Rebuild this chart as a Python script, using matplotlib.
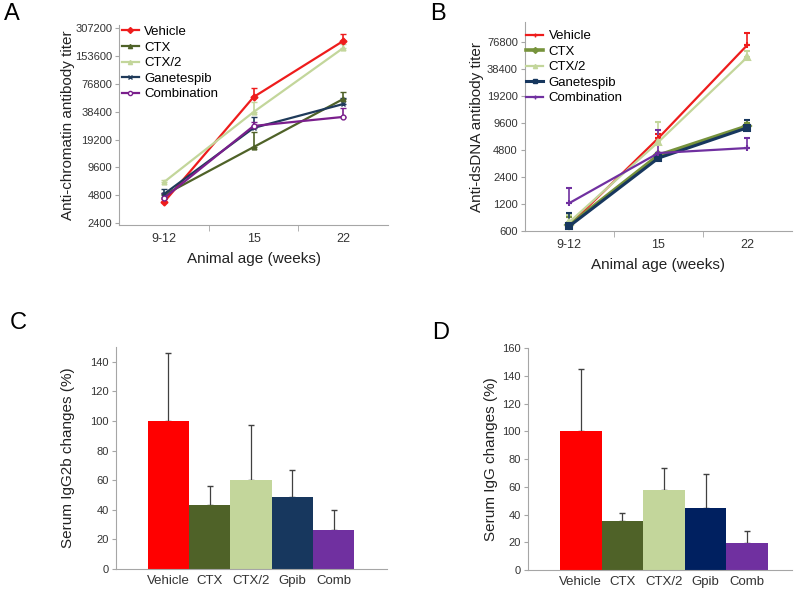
import numpy as np
import matplotlib.pyplot as plt
from matplotlib.lines import Line2D
from matplotlib.ticker import FixedLocator, NullFormatter

plt.rcParams['font.family'] = ['Liberation Sans', 'DejaVu Sans']

# データ
ages = ['9-12', '15', '22']
groups = ['Vehicle', 'CTX', 'CTX/2', 'Ganetespib', 'Combination']

# A: anti-chromatin titer
chrom_vehicle = [4050, 55500, 224000]
chrom_ctx = [4830, 15950, 52800]
chrom_ctx2 = [6670, 38200, 188000]
chrom_gpib = [4950, 25700, 46600]
chrom_comb = [4480, 27000, 33800]
chrom_err_vehicle = [300, 14100, 43000]
chrom_err_ctx = [300, 7250, 10100]
chrom_err_ctx2 = [400, 10800, 20000]
chrom_err_gpib = [650, 8000, 8000]
chrom_err_comb = [600, 3000, 8500]

# B: anti-dsDNA titer
dna_vehicle = [700, 6520, 71200]
dna_ctx = [700, 4200, 8900]
dna_ctx2 = [756, 5900, 52200]
dna_gpib = [680, 3900, 8500]
dna_comb = [1230, 4440, 5050]
dna_err_vehicle = [160, 700, 25400]
dna_err_ctx = [150, 300, 800]
dna_err_ctx2 = [150, 3950, 8000]
dna_err_gpib = [270, 200, 1800]
dna_err_comb = [580, 3560, 1470]

# C, D: bars
bar_labels = ['Vehicle', 'CTX', 'CTX/2', 'Gpib', 'Comb']
igg2b = [100, 43.5, 60, 48.5, 26.5]
igg2b_err = [46, 12.5, 37, 18.5, 13.5]
igg = [100, 35.5, 58, 45, 19.5]
igg_err = [45, 6, 15.5, 24, 8.5]

colors_a = ['#ee1c1c', '#4f6228', '#c3d69b', '#1f3a5a', '#7a1f8c']
markers_a = ['D', '^', '^', 'x', 'o']
colors_b = ['#ee1c1c', '#77933c', '#c3d69b', '#17375e', '#7030a0']
markers_b = ['+', 'D', '^', 's', '+']
bar_c = ['#ff0000', '#4f6228', '#c3d69b', '#17375e', '#7030a0']
bar_d = ['#ff0000', '#4f6228', '#c3d69b', '#002060', '#7030a0']

fig = plt.figure(figsize=(8, 5.94), dpi=100)
txt = '#333333'


def style_line_ax(ax):
    for s in ['top', 'right']:
        ax.spines[s].set_visible(False)
    for s in ['left', 'bottom']:
        ax.spines[s].set_color('#a6a6a6')
    ax.set_yscale('log', base=2)
    ax.set_xlim(-0.5, 2.5)
    ax.set_xticks(range(3))
    ax.set_xticklabels(ages, fontsize=9, color=txt)
    ax.xaxis.set_minor_locator(FixedLocator([0.5, 1.5]))
    ax.tick_params(axis='x', which='major', length=0, pad=6)
    ax.tick_params(axis='x', which='minor', length=4, color='#a6a6a6')
    ax.tick_params(axis='y', which='major', length=3, color='#a6a6a6', labelsize=8, labelcolor=txt, pad=2)
    ax.yaxis.set_minor_formatter(NullFormatter())
    ax.tick_params(axis='y', which='minor', length=0)
    ax.set_xlabel('Animal age (weeks)', fontsize=11, color='#222222', labelpad=5)


def add_legend(ax, cols, marks, lws, anchor):
    handles = []
    for c, m, lw in zip(cols, marks, lws):
        mfc = 'white' if m == 'o' else c
        handles.append(Line2D([], [], color=c, lw=lw, marker=m, ms=3, mfc=mfc, mew=1))
    ax.legend(handles, groups, loc='upper left', bbox_to_anchor=anchor, frameon=False,
              fontsize=9.5, handlelength=1.3, handletextpad=0.4, labelspacing=0.25,
              borderaxespad=0.2)


# A
axA = fig.add_axes([0.149, 0.621, 0.336, 0.337])
x = np.arange(3)
series_a = [chrom_vehicle, chrom_ctx, chrom_ctx2, chrom_gpib, chrom_comb]
errs_a = [chrom_err_vehicle, chrom_err_ctx, chrom_err_ctx2, chrom_err_gpib, chrom_err_comb]
for i in range(5):
    mfc = 'white' if markers_a[i] == 'o' else colors_a[i]
    axA.errorbar(x, series_a[i], yerr=[np.zeros(3), errs_a[i]], color=colors_a[i], lw=1.6,
                 marker=markers_a[i], ms=3.5, mfc=mfc, capsize=2, elinewidth=1.2)
axA.set_ylim(2283, 334000)
style_line_ax(axA)
yt = [2400, 4800, 9600, 19200, 38400, 76800, 153600, 307200]
axA.set_yticks(yt)
axA.set_yticklabels([str(v) for v in yt])
axA.set_ylabel('Anti-chromatin antibody titer', fontsize=11, color='#222222', labelpad=0)
add_legend(axA, colors_a, markers_a, [1.6] * 5, (-0.02, 1.035))

# B
axB = fig.add_axes([0.656, 0.611, 0.334, 0.352])
series_b = [dna_vehicle, dna_ctx, dna_ctx2, dna_gpib, dna_comb]
errs_b = [dna_err_vehicle, dna_err_ctx, dna_err_ctx2, dna_err_gpib, dna_err_comb]
lw_b = [1.6, 2.6, 1.6, 2.2, 1.6]
for i in range(5):
    axB.errorbar(x, series_b[i], yerr=[np.zeros(3), errs_b[i]], color=colors_b[i], lw=lw_b[i],
                 marker=markers_b[i], ms=5 if markers_b[i] == 's' else 4, mew=1.5,
                 capsize=2, elinewidth=1.2)
axB.set_ylim(600, 128000)
style_line_ax(axB)
yt = [600, 1200, 2400, 4800, 9600, 19200, 38400, 76800]
axB.set_yticks(yt)
axB.set_yticklabels([str(v) for v in yt])
axB.set_ylabel('Anti-dsDNA antibody titer', fontsize=11, color='#222222', labelpad=2)
add_legend(axB, colors_b, markers_b, lw_b, (-0.025, 1.0))


def bar_panel(rect, vals, errs, cols, ylim, step, xmax, ylabel, pad):
    ax = fig.add_axes(rect)
    xb = np.arange(len(vals))
    ax.bar(xb, vals, width=1.0, color=cols, zorder=2)
    ax.errorbar(xb, vals, yerr=[np.zeros(len(vals)), errs], fmt='none', ecolor='#404040',
                elinewidth=0.9, capsize=2, zorder=1)
    ax.set_xlim(-1.27, xmax)
    ax.set_ylim(0, ylim)
    ax.set_yticks(np.arange(0, ylim + 1, step))
    ax.set_xticks(xb)
    ax.set_xticklabels(bar_labels, fontsize=9.5, color=txt)
    ax.tick_params(axis='x', length=0, pad=4)
    ax.tick_params(axis='y', length=3, color='#a6a6a6', labelsize=8, labelcolor=txt, pad=2)
    for s in ['top', 'right']:
        ax.spines[s].set_visible(False)
    for s in ['left', 'bottom']:
        ax.spines[s].set_color('#a6a6a6')
    ax.set_ylabel(ylabel, fontsize=11, color='#222222', labelpad=pad)
    return ax


bar_panel([0.145, 0.042, 0.339, 0.374], igg2b, igg2b_err, bar_c, 150, 20, 5.3,
          'Serum IgG2b changes (%)', 11)
bar_panel([0.66, 0.040, 0.33, 0.374], igg, igg_err, bar_d, 160, 20, 5.08,
          'Serum IgG changes (%)', 3)

# パネルラベル
for lab, xx, yy in [('A', 0.005, 0.995), ('B', 0.538, 0.995), ('C', 0.012, 0.475), ('D', 0.54, 0.458)]:
    fig.text(xx, yy, lab, fontsize=17, va='top', ha='left', color='black')

fig.savefig('out.png', dpi=100)
